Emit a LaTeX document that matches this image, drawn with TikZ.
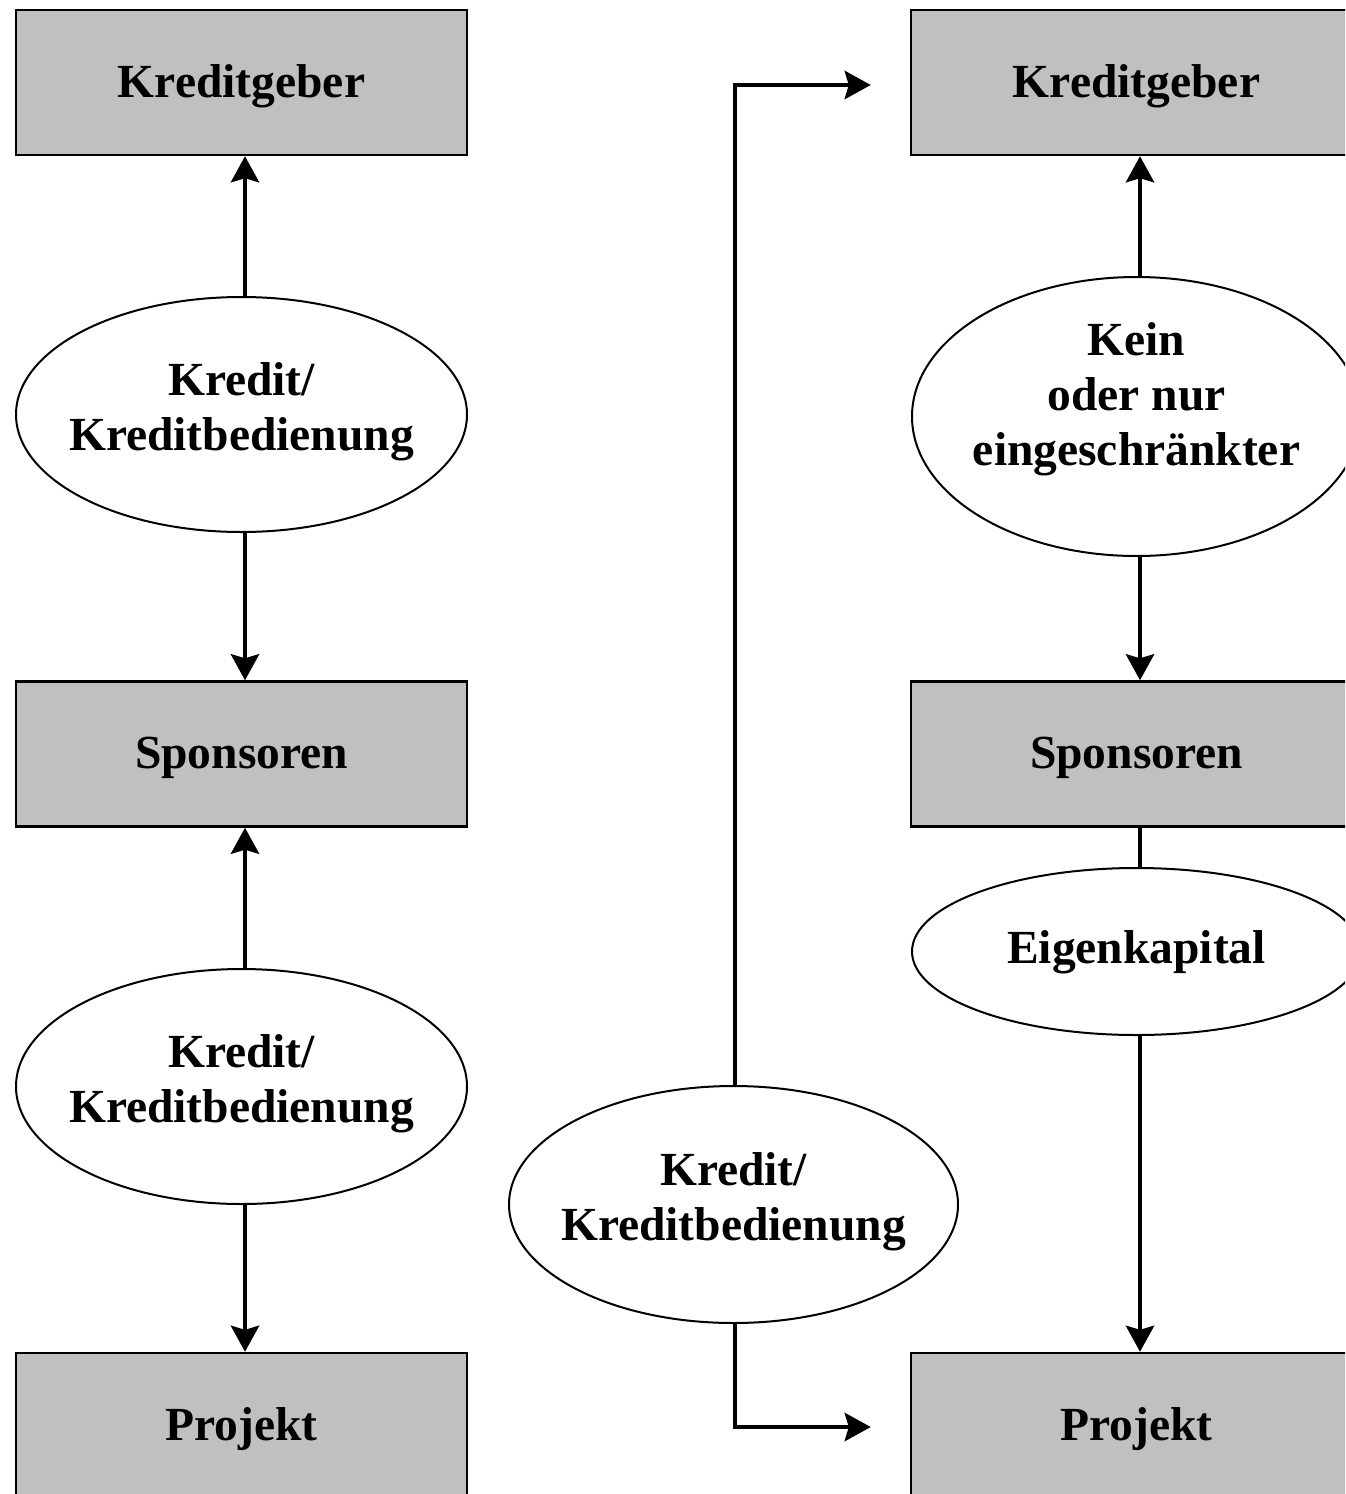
\documentclass[tikz,border=0pt]{standalone}
\usepackage{fontspec}
\setmainfont{Liberation Serif}
\usetikzlibrary{shapes.geometric,arrows.meta}
\definecolor{boxgray}{HTML}{C0C0C0}
\tikzset{
  boxnode/.style={draw, line width=1.2pt, fill=boxgray, minimum width=225.5pt, minimum height=72.5pt, inner sep=0pt},
  ellnode/.style={draw, line width=1pt, ellipse, fill=white, inner sep=0pt},
  lbl/.style={font=\fontsize{23.75}{27.5}\selectfont\bfseries, align=center, inner sep=0pt},
  arr/.style={line width=2.4pt, -{Stealth[length=13pt,width=14pt,inset=2pt]}},
  plain/.style={line width=2.4pt},
}
\begin{document}
\begin{tikzpicture}[x=0.5pt,y=-0.5pt]
\clip (0,0) rectangle (1345,1494);
\fill[white] (0,0) rectangle (1345,1494);
% left column
\node[boxnode] (k1) at (241.5,82.5) {};
\node[lbl] at (241.5,86.5) {Kreditgeber};
\node[ellnode, minimum width=225.5pt, minimum height=117.5pt] (e1) at (241.5,414.5) {};
\node[lbl] at (241.5,412) {Kredit/\\Kreditbedienung};
\node[boxnode] (s1) at (241.5,754) {};
\node[lbl] at (241.5,758) {Sponsoren};
\node[ellnode, minimum width=225.5pt, minimum height=117.5pt] (e2) at (241.5,1086.5) {};
\node[lbl] at (241.5,1084) {Kredit/\\Kreditbedienung};
\node[boxnode] (p1) at (241.5,1425.5) {};
\node[lbl] at (241.5,1429.5) {Projekt};
% right column
\node[boxnode] (k2) at (1136.5,82.5) {};
\node[lbl] at (1136.5,86.5) {Kreditgeber};
\node[ellnode, minimum width=224.5pt, minimum height=139.5pt] (e4) at (1136.5,416.5) {};
\node[lbl] at (1136.5,399) {Kein\\oder nur\\eingeschränkter};
\node[boxnode] (s2) at (1136.5,754) {};
\node[lbl] at (1136.5,758) {Sponsoren};
\node[ellnode, minimum width=224.5pt, minimum height=83.5pt] (e5) at (1136.5,951.5) {};
\node[lbl] at (1136.5,952) {Eigenkapital};
\node[boxnode] (p2) at (1136.5,1425.5) {};
\node[lbl] at (1136.5,1429.5) {Projekt};
% middle
\node[ellnode, minimum width=224.5pt, minimum height=118.5pt] (e3) at (733.5,1204.5) {};
\node[lbl] at (733.5,1202) {Kredit/\\Kreditbedienung};
% connectors left
\draw[arr] ([xshift=1.75pt]e1.north) -- ([xshift=1.75pt]k1.south);
\draw[arr] ([xshift=1.75pt]e1.south) -- ([xshift=1.75pt]s1.north);
\draw[arr] ([xshift=1.75pt]e2.north) -- ([xshift=1.75pt]s1.south);
\draw[arr] ([xshift=1.75pt]e2.south) -- ([xshift=1.75pt]p1.north);
% connectors right
\draw[arr] ([xshift=1.75pt]e4.north) -- ([xshift=1.75pt]k2.south);
\draw[arr] ([xshift=1.75pt]e4.south) -- ([xshift=1.75pt]s2.north);
\draw[plain] ([xshift=1.75pt]s2.south) -- ([xshift=1.75pt]e5.north);
\draw[arr] ([xshift=1.75pt]e5.south) -- ([xshift=1.75pt]p2.north);
% connectors middle
\coordinate (t1) at ([xshift=-19.5pt,yshift=-1.25pt]k2.west);
\coordinate (t2) at ([xshift=-19.5pt,yshift=-0.75pt]p2.west);
\draw[arr] ([xshift=0.75pt]e3.north) |- (t1);
\draw[arr] ([xshift=0.75pt]e3.south) |- (t2);
\end{tikzpicture}
\end{document}
